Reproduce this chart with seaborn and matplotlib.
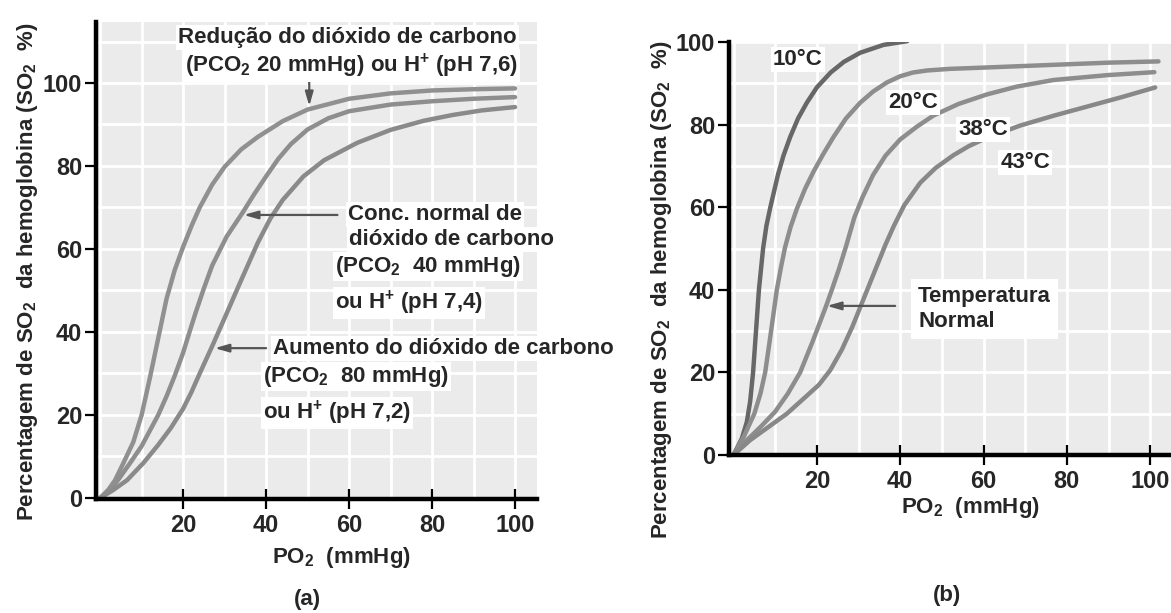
import numpy as np
import pandas as pd
import matplotlib
matplotlib.use("Agg")
import matplotlib.pyplot as plt
from matplotlib.ticker import MultipleLocator
import seaborn as sns

# ---------------- data ----------------
# Panel (a): effect of CO2 / pH
po2_ph76 = [0, 2, 3.6, 5.6, 8, 10, 12, 14, 16, 18, 20, 22, 24, 27, 30, 34, 38, 44, 50, 60, 70, 80, 90, 100]
so2_ph76 = [0, 2, 4.3, 8.4, 13.5, 20, 29, 38.5, 48, 55, 60.5, 65.5, 70, 75.5, 79.8, 84, 87, 90.8, 93.6, 96.2, 97.5, 98.2, 98.5, 98.7]

po2_ph74 = [0, 2, 4.3, 7.2, 10, 14, 16, 18, 20, 21.7, 23, 25, 27, 30.5, 34.5, 37, 40.2, 43, 46, 50, 55, 60, 70, 80, 90, 100]
so2_ph74 = [0, 1.5, 4.3, 8.4, 12.5, 20, 24.5, 29.5, 35, 40.5, 44.6, 50.5, 56, 63, 69, 73, 77.8, 81.8, 85.3, 88.8, 91.5, 93.2, 94.8, 95.6, 96.2, 96.6]

po2_ph72 = [0, 3, 6.5, 10.4, 14, 17, 20, 22, 24, 27.2, 30.5, 34, 38, 41, 44, 49, 54, 62, 70, 78, 85, 92, 100]
so2_ph72 = [0, 1.8, 4.3, 8.4, 12.8, 16.8, 21.5, 25.5, 30, 37, 44.5, 52.5, 61.5, 67.3, 71.8, 77.5, 81.4, 85.6, 88.7, 90.9, 92.3, 93.4, 94.2]

# Panel (b): effect of temperature
po2_t10 = [0, 2, 3.2, 4, 4.7, 5.4, 6.1, 7.1, 7.9, 8.8, 10.7, 12, 13.6, 15.5, 17.6, 20, 23.3, 26.5, 30.4, 36, 41.7]
so2_t10 = [0, 4, 8, 13, 20, 30, 40, 50, 55.5, 59.8, 68, 72.5, 77, 81.5, 85.3, 89, 92.6, 95.2, 97.4, 99.3, 100.2]

po2_t20 = [0, 2.5, 5, 6.5, 7.6, 8.6, 9.5, 10.4, 11.4, 12.4, 13.7, 15.2, 17.2, 19.2, 21.5, 24, 27, 30.4, 33.5,
           36.8, 40, 43, 46.4, 52, 60, 70, 80, 90, 102]
so2_t20 = [0, 4.5, 10, 15, 20, 27, 33.5, 40, 45.5, 50.4, 55.2, 59.6, 64.5, 68.6, 72.8, 77, 81.5, 85.3, 88,
           90.2, 91.7, 92.6, 93.1, 93.5, 93.8, 94.2, 94.6, 95, 95.3]

po2_t38 = [0, 3.2, 6.5, 10, 13, 16, 19, 22.2, 23.6, 25.3, 27, 29, 31, 33.5, 36.5, 40, 44, 48, 54, 60.8, 68, 76.8, 90, 101]
so2_t38 = [0, 3.6, 6.8, 10.5, 14.8, 20, 27.5, 36, 40, 45, 50.5, 57.5, 62.5, 67.8, 72.5, 76.4, 79.5, 82.2, 85, 87.3, 89.2, 90.8, 92, 92.7]

po2_t43 = [0, 4, 8, 12.8, 17, 20.5, 23.2, 26, 28.5, 30.5, 32.5, 34.5, 36.5, 38.5, 41, 44.8, 48.5, 52.8, 56.5,
           60.8, 68.9, 77, 85, 93, 101.2]
so2_t43 = [0, 3.6, 6.5, 10, 13.8, 17, 20.5, 25.5, 31, 36, 41, 46, 51, 55.5, 60.5, 65.9, 69.5, 72.6, 74.8,
           76.8, 79.8, 82.2, 84.4, 86.6, 89]

x_ticks = [20, 40, 60, 80, 100]
y_ticks = [0, 20, 40, 60, 80, 100]

df_a = pd.concat([
    pd.DataFrame({"po2": po2_ph76, "so2": so2_ph76, "curve": "pH 7,6"}),
    pd.DataFrame({"po2": po2_ph74, "so2": so2_ph74, "curve": "pH 7,4"}),
    pd.DataFrame({"po2": po2_ph72, "so2": so2_ph72, "curve": "pH 7,2"}),
], ignore_index=True)
df_b = pd.concat([
    pd.DataFrame({"po2": po2_t10, "so2": so2_t10, "curve": "10°C"}),
    pd.DataFrame({"po2": po2_t20, "so2": so2_t20, "curve": "20°C"}),
    pd.DataFrame({"po2": po2_t38, "so2": so2_t38, "curve": "38°C"}),
    pd.DataFrame({"po2": po2_t43, "so2": so2_t43, "curve": "43°C"}),
], ignore_index=True)

# ---------------- style ----------------
sns.set_theme(style="white")
plt.rcParams["font.family"] = ["Liberation Sans", "DejaVu Sans"]
plt.rcParams["font.weight"] = "bold"
plt.rcParams["mathtext.fontset"] = "custom"
plt.rcParams["mathtext.rm"] = "Liberation Sans:bold"
plt.rcParams["mathtext.it"] = "Liberation Sans:bold"
plt.rcParams["mathtext.bf"] = "Liberation Sans:bold"
plt.rcParams["mathtext.sf"] = "Liberation Sans:bold"
plt.rcParams["mathtext.default"] = "rm"

W, H = 1171, 613
fig = plt.figure(figsize=(W / 100, H / 100), dpi=100)
fig.patch.set_facecolor("white")

BG = "#ebebeb"
TXT = 16
TICK = 17


def style_axes(ax):
    ax.set_facecolor(BG)
    for s in ["top", "right"]:
        ax.spines[s].set_visible(False)
    for s in ["left", "bottom"]:
        ax.spines[s].set_color("black")
        ax.spines[s].set_linewidth(3.2)
        ax.spines[s].set_zorder(5)
    ax.set_xticks(x_ticks)
    ax.set_yticks(y_ticks)
    ax.xaxis.set_minor_locator(MultipleLocator(10))
    ax.yaxis.set_minor_locator(MultipleLocator(10))
    ax.grid(which="both", color="white", lw=2)
    ax.set_axisbelow(True)
    ax.tick_params(which="minor", length=0)
    ax.tick_params(axis="y", which="major", direction="out", length=8, width=1.6,
                   color="black", pad=2, labelsize=TICK, left=True)
    ax.tick_params(axis="x", which="major", direction="inout", length=14, width=1.6,
                   color="black", pad=4, labelsize=TICK, bottom=True)
    for lab in ax.get_xticklabels() + ax.get_yticklabels():
        lab.set_fontweight("bold")
    ax.set_xlabel("")
    ax.set_ylabel("")


def arrow(ax, x0, y0, x1, y1):
    ax.annotate("", xy=(x1, y1), xytext=(x0, y0),
                arrowprops=dict(arrowstyle="-|>,head_length=0.7,head_width=0.2",
                                color="#555555", lw=1.6, shrinkA=0, shrinkB=0),
                zorder=6)


def round_lines(ax):
    for ln in ax.lines:
        ln.set_solid_capstyle("round")
        ln.set_solid_joinstyle("round")


# ---------------- panel (a) ----------------
axa = fig.add_axes([96 / W, 1 - 499.2 / H, 441 / W, (499.2 - 22) / H])
sns.lineplot(data=df_a, x="po2", y="so2", hue="curve", sort=False, estimator=None,
             palette={"pH 7,6": "#909090", "pH 7,4": "#8e8e8e", "pH 7,2": "#8a8a8a"},
             lw=3.2, legend=False, ax=axa)
axa.set_xlim(-1, 105.3)
axa.set_ylim(-0.3, 114.7)
style_axes(axa)
round_lines(axa)

tb = dict(facecolor="white", edgecolor="none", pad=1.5)
kw = dict(fontsize=TXT, fontweight="bold", ha="left", va="baseline", zorder=7, clip_on=False)
HP = r"$\mathrm{H}^{+}$"
axa.text(18.8, 109.6, "Redução do dióxido de carbono", bbox=tb, **kw)
axa.text(20.5, 102.7, "(PCO$_2$ 20 mmHg) ou " + HP + " (pH 7,6)", bbox=tb, **kw)
arrow(axa, 50.4, 101.5, 50.4, 94.4)

axa.text(59.8, 67.0, "Conc. normal de", bbox=tb, **kw)
axa.text(60.0, 61.0, "dióxido de carbono", bbox=tb, **kw)
axa.text(56.6, 54.5, "(PCO$_2$  40 mmHg)", bbox=tb, **kw)
axa.text(56.6, 45.5, "ou " + HP + " (pH 7,4)", bbox=tb, **kw)
arrow(axa, 57.2, 68.2, 34.6, 68.2)

axa.text(41.7, 34.7, "Aumento do dióxido de carbono", bbox=tb, **kw)
axa.text(39.3, 28.0, "(PCO$_2$  80 mmHg)", bbox=tb, **kw)
axa.text(39.3, 19.0, "ou " + HP + " (pH 7,2)", bbox=tb, **kw)
arrow(axa, 40.0, 36.1, 27.6, 36.1)

fig.text(28 / W, 1 - 272 / H, "Percentagem de SO$_2$  da hemoglobina (SO$_2$  %)",
         rotation=90, ha="center", va="center", fontsize=TXT, fontweight="bold")
fig.text(341 / W, 1 - 563 / H, "PO$_2$  (mmHg)", ha="center", va="baseline",
         fontsize=TXT, fontweight="bold")
fig.text(307 / W, 1 - 600 / H, "(a)", ha="center", va="center",
         fontsize=TXT, fontweight="bold")

# ---------------- panel (b) ----------------
axb = fig.add_axes([729 / W, 1 - 455 / H, 442 / W, (455 - 42) / H])
sns.lineplot(data=df_b, x="po2", y="so2", hue="curve", sort=False, estimator=None,
             palette={"10°C": "#676767", "20°C": "#8d8d8d", "38°C": "#8d8d8d", "43°C": "#888888"},
             lw=3.2, legend=False, ax=axb)
axb.set_xlim(-1.08, 105.0)
axb.set_ylim(0, 100)
style_axes(axb)
round_lines(axb)

axb.text(9.5, 94.5, "10°C", bbox=tb, **kw)
axb.text(37.1, 83.9, "20°C", bbox=tb, **kw)
axb.text(53.9, 77.6, "38°C", bbox=tb, **kw)
axb.text(64.0, 69.6, "43°C", bbox=tb, **kw)
axb.text(44.3, 31.0, "Temperatura\nNormal", linespacing=1.25,
         bbox=dict(facecolor="white", edgecolor="none", pad=5), **kw)
arrow(axb, 38.8, 36.1, 22.4, 36.1)

fig.text(662 / W, 1 - 290 / H, "Percentagem de SO$_2$  da hemoglobina (SO$_2$  %)",
         rotation=90, ha="center", va="center", fontsize=TXT, fontweight="bold")
fig.text(970 / W, 1 - 513 / H, "PO$_2$  (mmHg)", ha="center", va="baseline",
         fontsize=TXT, fontweight="bold")
fig.text(947 / W, 1 - 595 / H, "(b)", ha="center", va="center",
         fontsize=TXT, fontweight="bold")

fig.savefig("out.png", dpi=100, facecolor="white")
